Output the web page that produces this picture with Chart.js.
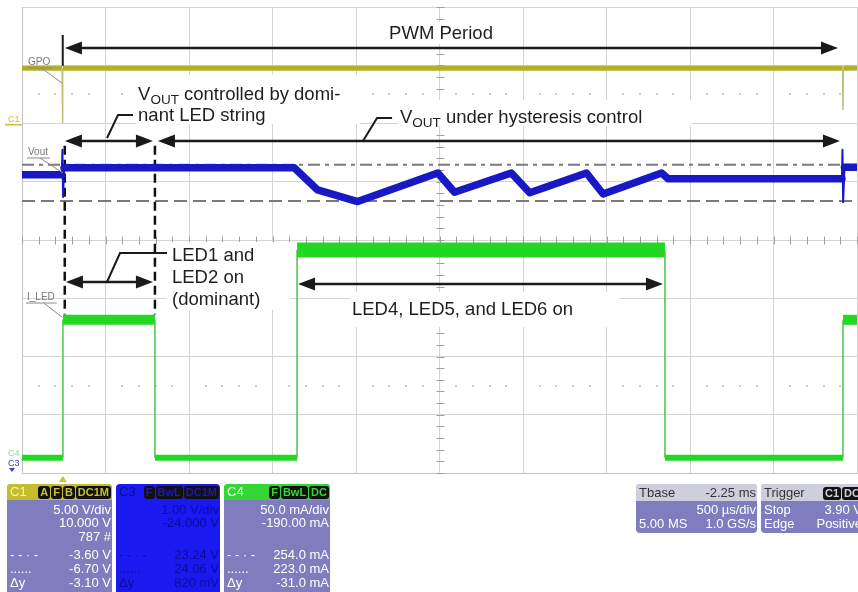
<!DOCTYPE html>
<html>
<head>
<meta charset="utf-8">
<script src="https://cdn.jsdelivr.net/npm/chart.js@4.4.1/dist/chart.umd.min.js"></script>
<style>
  html, body { margin: 0; padding: 0; background: #fff; }
  #wrap { position: relative; width: 858px; height: 592px; overflow: hidden;
          font-family: "Liberation Sans", Arial, sans-serif; }
  #scope { position: absolute; left: 0; top: 0; }
  .panel { position: absolute; top: 484px; height: 112px; background: #7f7dbd;
           border-radius: 4px; color: #fff; font-size: 13px; overflow: hidden; }
  .hdr { position: absolute; left: 0; right: 0; top: 0; height: 16px; line-height: 16px; }
  .hdr .l { position: absolute; left: 3px; }
  .hdr .r { position: absolute; right: 1px; top: 1px; line-height: 13px; }
  .row { position: absolute; left: 0; right: 0; height: 14px; line-height: 14px; }
  .row .l { position: absolute; left: 3px; }
  .row .r { position: absolute; right: 1px; }
  .badge { display: inline-block; background: #111; border-radius: 3px; padding: 0 2px;
           font-size: 11px; font-weight: bold; margin-left: 1px; }
</style>
</head>
<body>
<div id="wrap">
  <canvas id="scope" width="858" height="592"></canvas>

  <!-- C1 -->
  <div class="panel" style="left:7px;width:105px;">
    <div class="hdr" style="background:#c4be2e;">
      <span class="l" style="color:#f8f4a4;">C1</span>
      <span class="r" style="color:#c8c030;"><span class="badge">A</span><span class="badge">F</span><span class="badge">B</span><span class="badge">DC1M</span></span>
    </div>
    <div class="row" style="top:19px;"><span class="r">5.00 V/div</span></div>
    <div class="row" style="top:32px;"><span class="r">10.000 V</span></div>
    <div class="row" style="top:46px;"><span class="r">787 #</span></div>
    <div class="row" style="top:64px;"><span class="l">- - · -</span><span class="r">-3.60 V</span></div>
    <div class="row" style="top:78px;"><span class="l">......</span><span class="r">-6.70 V</span></div>
    <div class="row" style="top:92px;"><span class="l">Δy</span><span class="r">-3.10 V</span></div>
  </div>

  <!-- C3 -->
  <div class="panel" style="left:116px;width:104px;background:#1a1af0;color:#0c0ca0;">
    <div class="hdr">
      <span class="l">C3</span>
      <span class="r" style="color:#1a1ab0;"><span class="badge">F</span><span class="badge">BwL</span><span class="badge">DC1M</span></span>
    </div>
    <div class="row" style="top:19px;"><span class="r">1.00 V/div</span></div>
    <div class="row" style="top:32px;"><span class="r">-24.000 V</span></div>
    <div class="row" style="top:64px;"><span class="l">- - · -</span><span class="r">23.24 V</span></div>
    <div class="row" style="top:78px;"><span class="l">......</span><span class="r">24.06 V</span></div>
    <div class="row" style="top:92px;"><span class="l">Δy</span><span class="r">820 mV</span></div>
  </div>

  <!-- C4 -->
  <div class="panel" style="left:224px;width:106px;">
    <div class="hdr" style="background:#34d634;">
      <span class="l" style="color:#eaffea;">C4</span>
      <span class="r" style="color:#34d634;"><span class="badge">F</span><span class="badge">BwL</span><span class="badge">DC</span></span>
    </div>
    <div class="row" style="top:19px;"><span class="r">50.0 mA/div</span></div>
    <div class="row" style="top:32px;"><span class="r">-190.00 mA</span></div>
    <div class="row" style="top:64px;"><span class="l">- - · -</span><span class="r">254.0 mA</span></div>
    <div class="row" style="top:78px;"><span class="l">......</span><span class="r">223.0 mA</span></div>
    <div class="row" style="top:92px;"><span class="l">Δy</span><span class="r">-31.0 mA</span></div>
  </div>

  <!-- timebase -->
  <div class="panel" style="left:636px;width:121px;height:49px;">
    <div class="hdr" style="background:#cfcfdc;color:#333;height:17px;line-height:17px;">
      <span class="l">Tbase</span><span class="r" style="top:0;line-height:17px;">-2.25 ms</span>
    </div>
    <div class="row" style="top:19px;"><span class="r">500 µs/div</span></div>
    <div class="row" style="top:33px;"><span class="l">5.00 MS</span><span class="r">1.0 GS/s</span></div>
  </div>

  <!-- trigger -->
  <div class="panel" style="left:761px;width:102px;height:49px;">
    <div class="hdr" style="background:#cfcfdc;color:#333;height:17px;line-height:17px;">
      <span class="l">Trigger</span>
      <span class="r" style="color:#cfcfdc;top:2px;"><span class="badge">C1</span><span class="badge">DC</span></span>
    </div>
    <div class="row" style="top:19px;"><span class="l">Stop</span><span class="r">3.90 V</span></div>
    <div class="row" style="top:33px;"><span class="l">Edge</span><span class="r">Positive</span></div>
  </div>
</div>

<script>
// time in ms (500 us/div, 10 div), vertical in screen divisions (0 = bottom, 8 = top)

// C1 - GPO
const gpoTime = [0, 0.240, 0.242, 0.245, 4.914, 4.916, 4.918, 5];
const gpoDiv  = [6.95, 6.95, 6.01, 6.95, 6.95, 6.23, 6.95, 6.95];

// C3 - Vout
const voutTime = [0, 0.238, 0.242, 0.246, 0.252, 1.63, 1.77, 2.01, 2.49, 2.59, 2.93, 3.04,
                  3.38, 3.48, 3.83, 3.87, 4.910, 4.913, 4.917, 4.925, 5];
const voutDiv  = [5.12, 5.12, 5.55, 4.74, 5.24, 5.24, 4.86, 4.66, 5.15, 4.82, 5.15, 4.81,
                  5.15, 4.79, 5.15, 5.05, 5.05, 5.55, 4.65, 5.25, 5.25];

// C4 - I_LED
const ledTime = [0, 0.245, 0.245, 0.796, 0.796, 1.647, 1.647, 3.85, 3.85, 4.916, 4.916, 5];
const ledDiv  = [0.26, 0.26, 2.63, 2.63, 0.26, 0.26, 3.83, 3.83, 0.26, 0.26, 2.63, 2.63];

// cursors on C3 (dash-dot / dashed)
const cursorDashDot = 5.29;
const cursorDashed  = 4.67;

// vertical dashed markers (LED1/LED2 window)
const markerTimes = [0.256, 0.796];
const markerTop = 5.62;
const markerBottom = 2.72;

const pts = (t, v) => t.map((x, i) => ({ x, y: v[i] }));
const isEdge = c => Math.abs(c.p1.parsed.x - c.p0.parsed.x) < 0.02;

const datasets = [
  {
    data: pts(gpoTime, gpoDiv),
    borderColor: '#b2b026',
    segment: {
      borderWidth: c => isEdge(c) ? 1.5 : 5,
      borderColor: c => isEdge(c) ? '#bebe78' : '#b2b026'
    }
  },
  {
    data: pts(voutTime, voutDiv),
    borderColor: '#1818c4',
    borderJoinStyle: 'round',
    borderCapStyle: 'round',
    segment: { borderWidth: c => isEdge(c) ? 2 : 7.5 }
  },
  {
    data: pts(ledTime, ledDiv),
    borderColor: '#22d822',
    segment: {
      borderWidth: c => isEdge(c) ? 1.5 : (c.p0.parsed.y > 3.5 ? 15 : c.p0.parsed.y > 2 ? 10 : 6),
      borderColor: c => isEdge(c) ? '#4cc44c' : '#22d822'
    }
  },
  ...markerTimes.map(t => ({
    data: [{ x: t, y: markerTop }, { x: t, y: markerBottom }],
    borderColor: '#111', borderWidth: 2.5, borderDash: [9, 5]
  })),
  {
    data: [{ x: 0, y: cursorDashDot }, { x: 5, y: cursorDashDot }],
    borderColor: '#7a7a7a', borderWidth: 2, borderDash: [12, 5, 4, 5]
  },
  {
    data: [{ x: 0, y: cursorDashed }, { x: 5, y: cursorDashed }],
    borderColor: '#7a7a7a', borderWidth: 2, borderDash: [13, 6]
  }
];

// annotation geometry, in the same units (ms, div)
const whiteBoxes = [
  [2.036, 2.994, 7.365, 7.742],   // PWM Period
  [0.683, 2.024, 5.99, 6.83],     // Vout controlled...
  [2.251, 4.012, 5.957, 6.403],   // Vout under hysteresis
  [0.868, 1.605, 2.798, 3.966],   // LED1 and LED2
  [1.964, 3.581, 2.506, 3.107]    // LED4, LED5, LED6
];
const arrows = [
  [0.257, 4.886, 7.296],
  [0.257, 0.784, 5.700],
  [0.814, 4.898, 5.700],
  [0.263, 0.784, 3.279],
  [1.653, 3.838, 3.245]
];
const leaders = [
  [[0.665, 6.146], [0.575, 6.146], [0.509, 5.751]],
  [[2.216, 6.094], [2.126, 6.094], [2.042, 5.70]],
  [[0.868, 3.777], [0.587, 3.777], [0.509, 3.279]]
];
const dottedLevels = [6.5, 1.5];

const scopeDeco = {
  id: 'scopeDeco',
  beforeDatasetsDraw(chart) {
    const { ctx } = chart;
    const X = v => chart.scales.x.getPixelForValue(v);
    const Y = v => chart.scales.y.getPixelForValue(v);
    ctx.save();
    // minor ticks on centre cross
    ctx.strokeStyle = '#a0a0a0';
    ctx.lineWidth = 1;
    ctx.beginPath();
    const cx = Math.round(X(2.5)) + 0.5, cy = Math.round(Y(4)) + 0.5;
    for (let i = 0; i <= 40; i++) {
      const yy = Math.round(Y(i * 0.2)) + 0.5;
      ctx.moveTo(cx - 4, yy); ctx.lineTo(cx + 4, yy);
    }
    for (let i = 0; i <= 50; i++) {
      const xx = Math.round(X(i * 0.1)) + 0.5;
      ctx.moveTo(xx, cy - 4); ctx.lineTo(xx, cy + 4);
    }
    ctx.stroke();
    // dotted half-division lines
    ctx.fillStyle = '#cdcdcd';
    dottedLevels.forEach(lv => {
      for (let i = 1; i < 50; i++) {
        if (i % 5 === 0) continue;
        ctx.fillRect(Math.round(X(i * 0.1)) - 1, Math.round(Y(lv)) - 1, 2, 2);
      }
    });
    // white label backgrounds
    ctx.fillStyle = '#fff';
    whiteBoxes.forEach(b => {
      ctx.fillRect(X(b[0]), Y(b[3]), X(b[1]) - X(b[0]), Y(b[2]) - Y(b[3]));
    });
    ctx.restore();
  },
  afterDatasetsDraw(chart) {
    const { ctx } = chart;
    const X = v => chart.scales.x.getPixelForValue(v);
    const Y = v => chart.scales.y.getPixelForValue(v);
    ctx.save();
    ctx.strokeStyle = '#1a1a1a';
    ctx.fillStyle = '#1a1a1a';

    // vertical start bar of PWM arrow
    ctx.lineWidth = 2;
    ctx.beginPath();
    ctx.moveTo(X(0.244), Y(7.52)); ctx.lineTo(X(0.244), Y(6.99));
    ctx.stroke();

    // double-headed arrows
    const HL = 17, HW = 6.5;
    arrows.forEach(([t1, t2, lv]) => {
      const x1 = X(t1), x2 = X(t2), y = Math.round(Y(lv));
      ctx.lineWidth = 2.5;
      ctx.beginPath();
      ctx.moveTo(x1 + HL - 2, y); ctx.lineTo(x2 - HL + 2, y);
      ctx.stroke();
      ctx.beginPath();
      ctx.moveTo(x1, y); ctx.lineTo(x1 + HL, y - HW); ctx.lineTo(x1 + HL, y + HW); ctx.closePath();
      ctx.moveTo(x2, y); ctx.lineTo(x2 - HL, y - HW); ctx.lineTo(x2 - HL, y + HW); ctx.closePath();
      ctx.fill();
    });

    // leader lines
    ctx.lineWidth = 2;
    leaders.forEach(l => {
      ctx.beginPath();
      l.forEach(([t, v], i) => i ? ctx.lineTo(X(t), Y(v)) : ctx.moveTo(X(t), Y(v)));
      ctx.stroke();
    });

    // texts
    const big = '18.5px "Liberation Sans", Arial, sans-serif';
    const sub = '13.5px "Liberation Sans", Arial, sans-serif';
    ctx.fillStyle = '#1e1e1e';
    ctx.textBaseline = 'alphabetic';
    const voutText = (x, y, rest) => {
      ctx.font = big; ctx.fillText('V', x, y);
      let w = ctx.measureText('V').width;
      ctx.font = sub; ctx.fillText('OUT', x + w, y + 4);
      w += ctx.measureText('OUT').width;
      ctx.font = big; ctx.fillText(rest, x + w, y);
    };
    ctx.font = big;
    ctx.textAlign = 'center';
    ctx.fillText('PWM Period', X(2.509), Y(7.451));
    ctx.textAlign = 'left';
    voutText(X(0.695), Y(6.403), ' controlled by domi-');
    ctx.font = big;
    ctx.fillText('nant LED string', X(0.695), Y(6.043));
    voutText(X(2.263), Y(6.009), ' under hysteresis control');
    ctx.font = big;
    ctx.fillText('LED1 and', X(0.898), Y(3.639));
    ctx.fillText('LED2 on', X(0.898), Y(3.262));
    ctx.fillText('(dominant)', X(0.898), Y(2.884));
    ctx.fillText('LED4, LED5, and LED6 on', X(1.976), Y(2.712));

    // channel labels at the left edge
    ctx.font = '10px "Liberation Sans", Arial, sans-serif';
    ctx.lineWidth = 1;
    const chLabel = (txt, x, y, ex, ey) => {
      ctx.fillStyle = '#7a7a7a'; ctx.strokeStyle = '#8a8a8a';
      ctx.fillText(txt, x, y);
      const w = ctx.measureText(txt).width;
      ctx.beginPath();
      ctx.moveTo(x - 1, y + 3); ctx.lineTo(x + w + 2, y + 3);
      ctx.moveTo(x + w * 0.6, y + 3); ctx.lineTo(ex, ey);
      ctx.stroke();
    };
    chLabel('GPO', 28, 65, 62, 83);
    chLabel('Vout', 28, 155, 63, 173);
    chLabel('I_LED', 27, 300, 62, 317);

    ctx.font = '9px "Liberation Sans", Arial, sans-serif';
    ctx.fillStyle = '#c8c030';
    ctx.fillText('C1', 8, 122);
    ctx.fillRect(5, 124, 17, 1.5);
    ctx.fillStyle = '#8fdc8f';
    ctx.fillText('C4', 8, 456);
    ctx.fillStyle = '#3a3ad8';
    ctx.fillText('C3', 8, 466);
    ctx.beginPath();
    ctx.moveTo(9, 468); ctx.lineTo(15, 468); ctx.lineTo(12, 472); ctx.closePath();
    ctx.fill();

    // trigger position marker
    ctx.fillStyle = '#c8c040';
    const tx = X(0.245);
    ctx.beginPath();
    ctx.moveTo(tx, 476); ctx.lineTo(tx - 4, 482); ctx.lineTo(tx + 4, 482); ctx.closePath();
    ctx.fill();
    ctx.restore();
  }
};

new Chart(document.getElementById('scope'), {
  type: 'line',
  data: { datasets },
  options: {
    responsive: false,
    animation: false,
    layout: { padding: { left: 22, top: 7, right: 1, bottom: 119 } },
    plugins: { legend: { display: false }, tooltip: { enabled: false } },
    elements: { point: { radius: 0 }, line: { tension: 0, borderCapStyle: 'butt' } },
    scales: {
      x: {
        type: 'linear', min: 0, max: 5,
        ticks: { display: false, stepSize: 0.5 },
        grid: { color: '#d4d4d4', drawTicks: false },
        border: { color: '#c4c4c4' }
      },
      y: {
        type: 'linear', min: 0, max: 8,
        ticks: { display: false, stepSize: 1 },
        grid: { color: '#d4d4d4', drawTicks: false },
        border: { color: '#c4c4c4' }
      }
    }
  },
  plugins: [scopeDeco]
});
</script>
</body>
</html>
